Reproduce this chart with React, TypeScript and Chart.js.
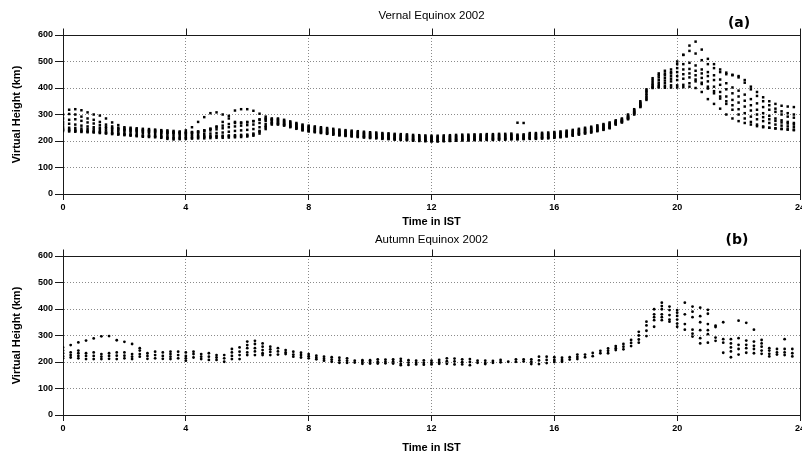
import { useEffect, useRef } from "react";
import { Chart, registerables } from "chart.js";

Chart.register(...registerables);

// ---------- axes ----------
const X_MIN = 0;
const X_MAX = 24;
const X_STEP = 4;
const Y_MIN = 0;
const Y_MAX = 600;
const Y_STEP = 100;

// ---------- panel (a): Vernal Equinox 2002, one array per day, samples every 0.2 h from 0 h ----------
const VERNAL_START_H = 0;
const VERNAL_STEP_H = 0.2;

const vernalDay1 = [
  300, 318, 320, 316, 308, 300, 296, 285, 270, 260, 252, 250, 248, 246, 245, 243, 241, 240, 238, 236,
  240, 252, 272, 290, 305, 308, 300, 285, 272, 268, 270, 275, 282, 285, 283,
  285, 280, 274, 268, 262, 258, 255, 252, 249, 246, 243, 241, 239, 237, 235, 233, 232, 230, 229, 227,
  226, 225, 223, 222, 221, 220, 220, 221, 222, 223, 224, 224, 225, 225, 226, 226, 227, 227, 228, 269,
  268, 230, 230, 231, 232, 234, 236, 239, 242, 246, 250, 254, 259, 264, 270,
  278, 285, 300, 320, 350, 395, 437, 455, 465,
  470, 500, 525, 560, 575, 545, 510, 490, 470, 458, 450, 445, 430, 405, 385, 365, 350, 340, 333, 330, 328,
];
const vernalDay2 = [
  285, 302, 300, 292, 285, 280, 272, 262, 255, 250, 247, 246, 244, 242, 241, 240, 238, 236, 234, 233,
  233, 234, 236, 240, 246, 255, 272, 295, 315, 320, 320, 314, 303, 292, 285,
  282, 276, 270, 264, 258, 254, 251, 248, 245, 242, 239, 237, 235, 233, 231, 229, 228, 226, 225, 223,
  222, 221, 219, 218, 217, 216, 216, 217, 218, 219, 220, 220, 221, 221, 222, 222, 223, 223, 224, 224,
  225, 226, 226, 227, 228, 230, 232, 235, 238, 242, 246, 250, 255, 260, 266,
  275, 282, 296, 316, 345, 390, 430, 448, 455,
  460, 490, 525, 540, 530, 505, 490, 475, 460, 452, 448, 440, 420, 395, 370, 350, 335, 322, 312, 305, 300,
];
const vernalDay3 = [
  272, 280, 282, 276, 270, 266, 260, 254, 249, 246, 243, 241, 240, 238, 237, 236, 234, 232, 231, 230,
  230, 232, 235, 240, 246, 252, 258, 264, 268, 270, 272, 275, 280, 282, 280,
  278, 272, 266, 260, 254, 250, 247, 244, 241, 238, 235, 233, 231, 229, 227, 225, 224, 222, 221, 219,
  218, 217, 215, 214, 213, 212, 212, 213, 214, 215, 216, 216, 217, 217, 218, 218, 219, 219, 220, 220,
  221, 222, 222, 223, 224, 226, 228, 231, 234, 238, 242, 246, 251, 256, 262,
  272, 279, 293, 313, 342, 385, 422, 440, 448,
  455, 475, 490, 495, 485, 470, 460, 448, 432, 418, 402, 390, 375, 358, 342, 328, 318, 310, 300, 292, 288,
];
const vernalDay4 = [
  262, 265, 262, 258, 255, 252, 250, 248, 245, 243, 241, 239, 238, 236, 235, 234, 232, 231, 230, 229,
  229, 230, 232, 236, 240, 244, 248, 252, 255, 258, 260, 262, 268, 276, 278,
  274, 269, 263, 257, 251, 247, 244, 241, 238, 235, 232, 230, 228, 226, 224, 222, 221, 219, 218, 216,
  215, 214, 212, 211, 210, 209, 209, 210, 211, 212, 213, 213, 214, 214, 215, 215, 216, 216, 217, 217,
  218, 219, 219, 220, 221, 223, 225, 228, 231, 235, 239, 243, 248, 253, 259,
  270, 277, 290, 310, 338, 378, 415, 430, 438,
  445, 460, 470, 472, 465, 455, 445, 430, 412, 395, 380, 368, 352, 335, 318, 305, 295, 285, 278, 272, 268,
];
const vernalDay5 = [
  252, 250, 249, 247, 246, 244, 242, 240, 238, 236, 234, 232, 231, 230, 228, 227, 226, 224, 223, 222,
  223, 224, 225, 226, 228, 230, 232, 235, 238, 240, 242, 245, 252, 264, 272,
  270, 265, 259, 253, 247, 243, 240, 237, 234, 231, 228, 226, 224, 222, 220, 218, 217, 215, 214, 212,
  211, 210, 208, 207, 206, 205, 205, 206, 207, 208, 209, 209, 210, 210, 211, 211, 212, 212, 213, 213,
  214, 215, 215, 216, 217, 219, 221, 224, 227, 231, 235, 239, 244, 249, 255,
  268, 275, 288, 308, 335, 372, 410, 420, 428,
  435, 445, 452, 455, 448, 438, 425, 405, 385, 368, 355, 345, 330, 315, 300, 290, 282, 276, 270, 266, 262,
];
const vernalDay6 = [
  245, 243, 241, 240, 238, 236, 234, 232, 230, 228, 226, 224, 222, 221, 220, 219, 218, 216, 215, 215,
  216, 217, 218, 218, 219, 220, 220, 221, 222, 223, 224, 228, 238, 256, 266,
  266, 262, 256, 250, 244, 240, 237, 234, 231, 228, 225, 223, 221, 219, 217, 215, 214, 212, 211, 209,
  208, 207, 205, 204, 203, 202, 202, 203, 204, 205, 206, 206, 207, 207, 208, 208, 209, 209, 210, 210,
  211, 212, 212, 213, 214, 216, 218, 221, 224, 228, 232, 236, 241, 246, 252,
  266, 273, 286, 305, 332, 365, 405, 412, 418,
  425, 430, 435, 440, 432, 420, 405, 388, 368, 350, 335, 320, 305, 292, 282, 275, 268, 262, 258, 255, 252,
];
const vernalDay7 = [
  238, 236, 235, 234, 233, 232, 230, 228, 226, 224, 222, 220, 218, 216, 215, 214, 212, 208, 206, 207,
  208, 209, 210, 210, 211, 212, 212, 213, 214, 215, 217, 220, 228, 245, 262,
  262, 258, 252, 246, 240, 236, 233, 230, 227, 224, 221, 219, 217, 215, 213, 211, 210, 208, 207, 205,
  204, 203, 201, 200, 199, 198, 198, 199, 200, 201, 202, 202, 203, 203, 204, 204, 205, 205, 206, 206,
  207, 208, 208, 209, 210, 212, 214, 217, 220, 224, 228, 232, 237, 242, 248,
  264, 271, 284, 302, 330, 360, 402, 405, 408,
  410, 410, 412, 418, 425, 415, 398, 380, 360, 340, 318, 300, 285, 272, 262, 255, 250, 247, 245, 243, 241,
];
const vernalDay8 = [
  242, 240, 238, 237, 236, 235, 233, 231, 229, 227, 225, 223, 221, 219, 218, 217, 215, 212, 210, 210,
  211, 212, 214, 215, 216, 217, 217, 218, 218, 219, 220, 224, 235, 252, 268,
  264, 260, 254, 248, 242, 238, 235, 232, 229, 226, 223, 221, 219, 217, 215, 213, 212, 210, 209, 207,
  206, 205, 203, 202, 201, 200, 200, 201, 202, 203, 204, 204, 205, 205, 206, 206, 207, 207, 208, 208,
  209, 210, 210, 211, 212, 214, 216, 219, 222, 226, 230, 234, 239, 244, 250,
  262, 270, 282, 300, 328, 355, 400, 402, 401,
  402, 402, 403, 405, 400, 385, 358, 340, 322, 300, 285, 275, 268, 262, 256, 252, 250, 248, 246, 244, 242,
];
const vernalDays = [
  vernalDay1, vernalDay2, vernalDay3, vernalDay4,
  vernalDay5, vernalDay6, vernalDay7, vernalDay8,
];

// ---------- panel (b): Autumn Equinox 2002, one list of heights per 0.25 h sample ----------
const AUTUMN_START_H = 0;
const AUTUMN_STEP_H = 0.25;

// 0.00 h .. 7.75 h
const autumnNight: number[][] = [
  [255, 243, 233, 222, 214], [264, 236, 226, 217], [274, 243, 233, 223, 214], [281, 233, 223, 211],
  [289, 236, 223, 211], [297, 230, 220, 211], [298, 233, 223, 212], [282, 236, 224, 211],
  [276, 236, 224, 214], [268, 230, 220, 211], [252, 243, 230, 220], [233, 223, 212],
  [239, 226, 214], [236, 223, 212], [239, 230, 220, 211], [239, 226, 214],
  [236, 223, 214, 205], [239, 230, 217], [230, 220, 211], [233, 220, 208],
  [226, 217, 208], [226, 214, 201], [249, 236, 223, 211], [255, 239, 226, 211],
  [277, 264, 252, 236, 226], [280, 268, 252, 240, 226], [270, 258, 245, 233, 226], [258, 248, 238, 226],
  [252, 240, 228], [245, 236, 230], [239, 228, 220], [235, 226, 217],
];
// 8.00 h .. 15.75 h
const autumnDay: number[][] = [
  [230, 222, 214], [224, 216, 210], [220, 212, 205], [218, 209, 201],
  [216, 206, 197], [214, 205, 197], [205, 198], [207, 200, 193],
  [207, 200, 194], [210, 201, 194], [209, 201, 195], [210, 202, 194],
  [212, 203, 193, 188], [207, 198, 189], [205, 197, 191], [206, 197, 190],
  [205, 197, 191], [208, 199, 193], [214, 203, 193], [213, 202, 191],
  [210, 200, 191], [211, 200, 188], [205, 197], [205, 196, 192],
  [204, 197], [208, 199], [201], [210, 201],
  [210, 202], [210, 201, 192], [220, 206, 192], [220, 208, 196],
];
// 16.00 h .. 23.75 h
const autumnEvening: number[][] = [
  [218, 208, 200], [216, 208, 201], [218, 209], [228, 219, 211],
  [228, 218], [234, 222], [242, 233], [251, 242, 233],
  [260, 252, 245], [268, 258, 248], [283, 272, 260], [314, 300, 285, 273],
  [352, 338, 318, 298], [399, 380, 369, 358, 333], [424, 411, 399, 380, 369, 358], [409, 396, 377, 360, 352],
  [396, 386, 374, 360, 345, 333], [424, 380, 343, 322], [409, 390, 369, 322, 307, 296], [405, 373, 350, 320, 290, 270],
  [397, 382, 343, 320, 305, 273], [337, 332, 292, 280], [350, 286, 273, 235], [286, 270, 255, 240, 218],
  [356, 290, 265, 249, 228], [348, 281, 265, 252, 235], [322, 277, 261, 249, 233], [283, 270, 258, 243, 231],
  [252, 243, 231, 221], [249, 236, 228], [286, 249, 236, 226], [249, 233, 221],
];
const autumnColumns = [...autumnNight, ...autumnDay, ...autumnEvening];

// ---------- styling ----------
const FONT = '"Liberation Sans", Arial, sans-serif';
const AXIS_COLOR = "#1a1a1a";
const GRID_COLOR = "#8a8a8a";
const CANVAS_W = 820;

type PanelText = {
  title: string;
  titleY: number;
  tag: string;
  tagX: number;
  tagY: number;
  xTitle: string;
  xTitleY: number;
  yTitle: string;
};

function makeConfig(
  datasets: any[],
  padTop: number,
  xAxisHeight: number,
  text: PanelText
): any {
  const framePlugin = {
    id: "frameAndText",
    afterDraw(chart: any) {
      const { ctx, chartArea: a, scales } = chart;
      ctx.save();
      ctx.strokeStyle = AXIS_COLOR;
      ctx.lineWidth = 1;
      ctx.beginPath();
      const top = Math.round(a.top) + 0.5;
      const right = Math.round(a.right) + 0.5;
      ctx.moveTo(a.left, top);
      ctx.lineTo(right + 0.5, top);
      ctx.moveTo(right, top);
      ctx.lineTo(right, a.bottom);
      for (let v = X_MIN; v <= X_MAX; v += X_STEP) {
        const x = Math.round(scales.x.getPixelForValue(v)) + 0.5;
        ctx.moveTo(x, top);
        ctx.lineTo(x, top - 7);
      }
      ctx.stroke();

      ctx.fillStyle = "#000";
      ctx.textAlign = "center";
      ctx.textBaseline = "middle";
      const cx = (a.left + a.right) / 2;
      ctx.font = `11.5px ${FONT}`;
      ctx.fillText(text.title, cx, text.titleY);
      ctx.font = `bold 11px ${FONT}`;
      ctx.fillText(text.xTitle, cx, text.xTitleY);
      ctx.font = `bold 14px "DejaVu Sans", Verdana, sans-serif`;
      ctx.fillText(text.tag, text.tagX, text.tagY);
      ctx.save();
      ctx.translate(17, (a.top + a.bottom) / 2);
      ctx.rotate(-Math.PI / 2);
      ctx.font = `bold 11px ${FONT}`;
      ctx.fillText(text.yTitle, 0, 0);
      ctx.restore();
      ctx.restore();
    },
  };

  return {
    type: "scatter",
    data: { datasets },
    options: {
      animation: false,
      responsive: false,
      maintainAspectRatio: false,
      events: [],
      layout: { padding: { left: 0, right: CANVAS_W - 800, top: padTop, bottom: 0 } },
      plugins: {
        legend: { display: false },
        tooltip: { enabled: false },
        title: { display: false },
      },
      scales: {
        x: {
          type: "linear",
          min: X_MIN,
          max: X_MAX,
          ticks: {
            stepSize: X_STEP,
            autoSkip: false,
            maxRotation: 0,
            padding: 2,
            color: "#000",
            font: { family: FONT, size: 9, weight: "bold" },
          },
          grid: {
            color: (c: any) =>
              c.tick && (c.tick.value === X_MIN || c.tick.value === X_MAX) ? "rgba(0,0,0,0)" : GRID_COLOR,
            tickColor: AXIS_COLOR,
            tickLength: 6,
            lineWidth: 1,
            drawTicks: true,
          },
          border: { display: true, color: AXIS_COLOR, width: 1, dash: [1, 2] },
          afterFit: (s: any) => {
            s.height = xAxisHeight;
          },
        },
        y: {
          type: "linear",
          min: Y_MIN,
          max: Y_MAX,
          ticks: {
            stepSize: Y_STEP,
            autoSkip: false,
            padding: 2,
            color: "#000",
            font: { family: FONT, size: 9, weight: "bold" },
          },
          grid: {
            color: (c: any) =>
              c.tick && (c.tick.value === Y_MIN || c.tick.value === Y_MAX) ? "rgba(0,0,0,0)" : GRID_COLOR,
            tickColor: AXIS_COLOR,
            tickLength: 8,
            lineWidth: 1,
            drawTicks: true,
          },
          border: { display: true, color: AXIS_COLOR, width: 1, dash: [1, 2] },
          afterFit: (s: any) => {
            s.width = 63;
          },
        },
      },
    },
    plugins: [framePlugin],
  };
}

function vernalDatasets() {
  return vernalDays.map((day) => ({
    data: day.map((v, i) => ({ x: VERNAL_START_H + i * VERNAL_STEP_H, y: v })),
    showLine: false,
    pointStyle: "rect",
    pointRadius: 1.75,
    pointBorderWidth: 0,
    pointBackgroundColor: "#000",
    pointBorderColor: "#000",
  }));
}

function autumnDatasets() {
  const pts: { x: number; y: number }[] = [];
  autumnColumns.forEach((col, i) => {
    col.forEach((v) => pts.push({ x: AUTUMN_START_H + i * AUTUMN_STEP_H, y: v }));
  });
  return [
    {
      data: pts,
      showLine: false,
      pointStyle: "circle",
      pointRadius: 1.4,
      pointBorderWidth: 0,
      pointBackgroundColor: "#000",
      pointBorderColor: "#000",
    },
  ];
}

export default function App() {
  const refA = useRef<HTMLCanvasElement>(null);
  const refB = useRef<HTMLCanvasElement>(null);

  useEffect(() => {
    const chartA = new Chart(
      refA.current as HTMLCanvasElement,
      makeConfig(vernalDatasets(), 35, 34, {
        title: "Vernal Equinox 2002",
        titleY: 16,
        tag: "(a)",
        tagX: 739,
        tagY: 23,
        xTitle: "Time in IST",
        xTitleY: 222,
        yTitle: "Virtual Height (km)",
      })
    );
    const chartB = new Chart(
      refB.current as HTMLCanvasElement,
      makeConfig(autumnDatasets(), 28, 40, {
        title: "Autumn Equinox 2002",
        titleY: 12,
        tag: "(b)",
        tagX: 737,
        tagY: 12,
        xTitle: "Time in IST",
        xTitleY: 220,
        yTitle: "Virtual Height (km)",
      })
    );
    return () => {
      chartA.destroy();
      chartB.destroy();
    };
  }, []);

  return (
    <div
      style={{
        position: "absolute",
        left: 0,
        top: 0,
        width: 802,
        height: 455,
        overflow: "hidden",
        background: "#fff",
      }}
    >
      <canvas
        ref={refA}
        width={CANVAS_W}
        height={228}
        style={{ position: "absolute", left: 0, top: 0, width: CANVAS_W, height: 228 }}
      />
      <canvas
        ref={refB}
        width={CANVAS_W}
        height={227}
        style={{ position: "absolute", left: 0, top: 228, width: CANVAS_W, height: 227 }}
      />
    </div>
  );
}
